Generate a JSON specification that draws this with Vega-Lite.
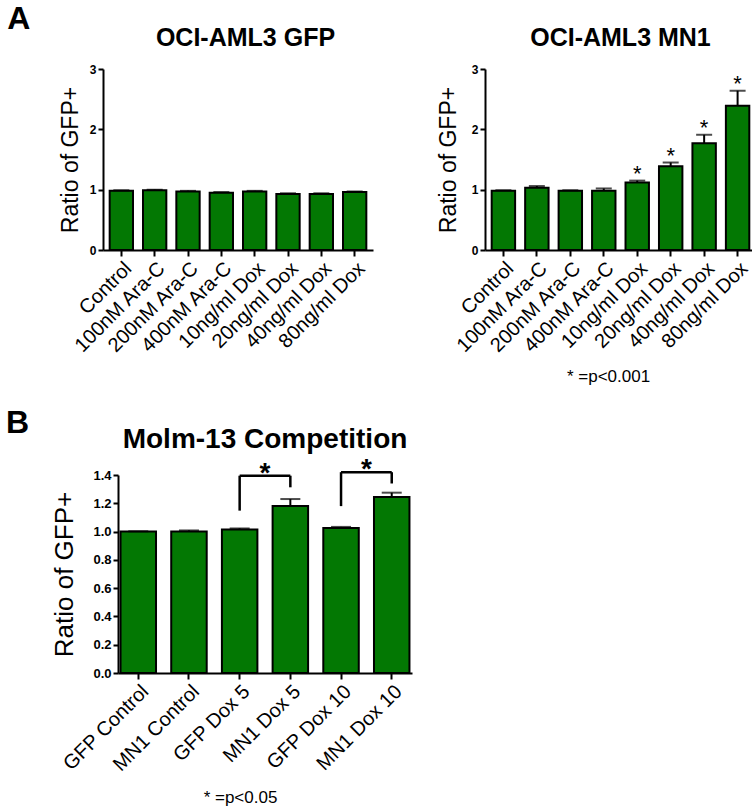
{
  "$schema": "https://vega.github.io/schema/vega-lite/v6.json",
  "padding": {"left": 5, "top": 3, "right": 0, "bottom": 0},
  "background": "white",
  "config": {
    "font": "Liberation Sans",
    "view": {"stroke": null},
    "axis": {
      "grid": false,
      "domainColor": "black",
      "domainWidth": 2,
      "tickColor": "black",
      "tickWidth": 2,
      "tickSize": 5,
      "labelColor": "black",
      "titleColor": "black",
      "labelFont": "Liberation Sans",
      "titleFont": "Liberation Sans",
      "labelOverlap": false
    },
    "title": {"font": "Liberation Sans", "color": "black", "fontWeight": "bold"}
  },
  "datasets": {
    "gfp": [
      {"group": "Control", "mean": 0.98, "upper": 0.99},
      {"group": "100nM Ara-C", "mean": 0.99, "upper": 1.0},
      {"group": "200nM Ara-C", "mean": 0.97, "upper": 0.98},
      {"group": "400nM Ara-C", "mean": 0.95, "upper": 0.96},
      {"group": "10ng/ml Dox", "mean": 0.97, "upper": 0.98},
      {"group": "20ng/ml Dox", "mean": 0.93, "upper": 0.94},
      {"group": "40ng/ml Dox", "mean": 0.93, "upper": 0.94},
      {"group": "80ng/ml Dox", "mean": 0.96, "upper": 0.97}
    ],
    "mn1": [
      {"group": "Control", "mean": 0.98, "upper": 0.99, "sig": ""},
      {"group": "100nM Ara-C", "mean": 1.03, "upper": 1.06, "sig": ""},
      {"group": "200nM Ara-C", "mean": 0.98, "upper": 0.99, "sig": ""},
      {"group": "400nM Ara-C", "mean": 0.98, "upper": 1.02, "sig": ""},
      {"group": "10ng/ml Dox", "mean": 1.12, "upper": 1.15, "sig": "*"},
      {"group": "20ng/ml Dox", "mean": 1.39, "upper": 1.45, "sig": "*"},
      {"group": "40ng/ml Dox", "mean": 1.77, "upper": 1.91, "sig": "*"},
      {"group": "80ng/ml Dox", "mean": 2.39, "upper": 2.64, "sig": "*"}
    ],
    "molm": [
      {"group": "GFP Control", "mean": 1.0, "upper": 1.002},
      {"group": "MN1 Control", "mean": 1.0, "upper": 1.008},
      {"group": "GFP Dox 5", "mean": 1.015, "upper": 1.022},
      {"group": "MN1 Dox 5", "mean": 1.18, "upper": 1.23},
      {"group": "GFP Dox 10", "mean": 1.025, "upper": 1.033},
      {"group": "MN1 Dox 10", "mean": 1.245, "upper": 1.275}
    ],
    "brackets": [
      {"g1": "GFP Dox 5", "g2": "MN1 Dox 5", "y1": 1.395, "y2": 1.395},
      {"g1": "GFP Dox 5", "g2": "GFP Dox 5", "y1": 1.148, "y2": 1.395},
      {"g1": "MN1 Dox 5", "g2": "MN1 Dox 5", "y1": 1.313, "y2": 1.395},
      {"g1": "GFP Dox 10", "g2": "MN1 Dox 10", "y1": 1.42, "y2": 1.42},
      {"g1": "GFP Dox 10", "g2": "GFP Dox 10", "y1": 1.18, "y2": 1.42},
      {"g1": "MN1 Dox 10", "g2": "MN1 Dox 10", "y1": 1.34, "y2": 1.42}
    ],
    "bstars": [
      {"g1": "GFP Dox 5", "y": 1.395, "sig": "*"},
      {"g1": "GFP Dox 10", "y": 1.42, "sig": "*"}
    ]
  },
  "spacing": 22,
  "vconcat": [
    {
      "title": {"text": "A", "anchor": "start", "fontSize": 32, "dx": -52, "offset": -10},
      "spacing": 49,
      "hconcat": [
        {
          "width": 255,
          "height": 181,
          "title": {"text": "OCI-AML3 GFP", "fontSize": 25, "offset": 12},
          "data": {"name": "gfp"},
          "encoding": {
            "x": {
              "field": "group", "type": "nominal", "sort": null,
              "scale": {"paddingInner": 0.3, "paddingOuter": 0.2, "range": [-15, 255]},
              "axis": {"title": null, "labelAngle": -45, "labelFontSize": 20, "labelPadding": 2, "tickSize": 6}
            }
          },
          "layer": [
            {
              "mark": {"type": "bar", "fill": "#037803", "stroke": "black", "strokeWidth": 2},
              "encoding": {
                "y": {
                  "field": "mean", "type": "quantitative",
                  "scale": {"domain": [0, 3]},
                  "axis": {"title": "Ratio of GFP+", "offset": 15, "titleFontSize": 23, "titleFontWeight": "normal", "values": [0, 1, 2, 3], "format": "d", "labelFontSize": 12, "labelFontWeight": "bold", "titlePadding": 7, "labelPadding": 2}
                }
              }
            },
            {
              "mark": {"type": "rule", "color": "black", "strokeWidth": 2},
              "encoding": {"y": {"field": "mean", "type": "quantitative"}, "y2": {"field": "upper"}}
            },
            {
              "mark": {"type": "tick", "color": "black", "thickness": 2, "size": 16},
              "encoding": {"y": {"field": "upper", "type": "quantitative"}}
            }
          ]
        },
        {
          "width": 271,
          "height": 181,
          "title": {"text": "OCI-AML3 MN1", "fontSize": 25, "offset": 12},
          "data": {"name": "mn1"},
          "encoding": {
            "x": {
              "field": "group", "type": "nominal", "sort": null,
              "scale": {"paddingInner": 0.3, "paddingOuter": 0.2},
              "axis": {"title": "* =p<0.001", "titleFontSize": 17, "titleFontWeight": "normal", "titlePadding": 12, "titleX": 123, "labelAngle": -45, "labelFontSize": 20, "labelPadding": 2, "tickSize": 6}
            }
          },
          "layer": [
            {
              "mark": {"type": "bar", "fill": "#037803", "stroke": "black", "strokeWidth": 2},
              "encoding": {
                "y": {
                  "field": "mean", "type": "quantitative",
                  "scale": {"domain": [0, 3]},
                  "axis": {"title": "Ratio of GFP+", "titleFontSize": 23, "titleFontWeight": "normal", "values": [0, 1, 2, 3], "format": "d", "labelFontSize": 12, "labelFontWeight": "bold", "titlePadding": 11, "labelPadding": 2}
                }
              }
            },
            {
              "mark": {"type": "rule", "color": "black", "strokeWidth": 2},
              "encoding": {"y": {"field": "mean", "type": "quantitative"}, "y2": {"field": "upper"}}
            },
            {
              "mark": {"type": "tick", "color": "black", "thickness": 2, "size": 16},
              "encoding": {"y": {"field": "upper", "type": "quantitative"}}
            },
            {
              "mark": {"type": "text", "fontSize": 22, "baseline": "alphabetic", "dy": 0, "color": "black"},
              "encoding": {"y": {"field": "upper", "type": "quantitative"}, "text": {"field": "sig"}}
            }
          ]
        }
      ]
    },
    {
      "title": {"text": "B", "anchor": "start", "fontSize": 32, "dx": -46, "offset": -14},
      "vconcat": [
        {
          "width": 294,
          "height": 198,
          "title": {"text": "Molm-13 Competition", "fontSize": 28, "offset": 2},
          "encoding": {
            "x": {
              "field": "group", "type": "nominal",
              "scale": {"domain": ["GFP Control", "MN1 Control", "GFP Dox 5", "MN1 Dox 5", "GFP Dox 10", "MN1 Dox 10"], "paddingInner": 0.3, "paddingOuter": 0.05},
              "axis": {"title": "* =p<0.05", "titleFontSize": 17, "titleFontWeight": "normal", "titlePadding": 15, "titleX": 122, "labelAngle": -45, "labelFontSize": 20, "labelPadding": 2, "tickSize": 6}
            }
          },
          "layer": [
            {
              "data": {"name": "molm"},
              "layer": [
                {
                  "mark": {"type": "bar", "fill": "#037803", "stroke": "black", "strokeWidth": 2},
                  "encoding": {
                    "y": {
                      "field": "mean", "type": "quantitative",
                      "scale": {"domain": [0, 1.4]},
                      "axis": {"title": "Ratio of GFP+", "titleFontSize": 26, "titleFontWeight": "normal", "values": [0, 0.2, 0.4, 0.6, 0.8, 1.0, 1.2, 1.4], "tickCount": 8, "labelOverlap": false, "format": ".1f", "labelFontSize": 13, "labelFontWeight": "bold", "titlePadding": 15, "labelPadding": 2}
                    }
                  }
                },
                {
                  "mark": {"type": "rule", "color": "black", "strokeWidth": 2},
                  "encoding": {"y": {"field": "mean", "type": "quantitative"}, "y2": {"field": "upper"}}
                },
                {
                  "mark": {"type": "tick", "color": "black", "thickness": 2, "size": 20},
                  "encoding": {"y": {"field": "upper", "type": "quantitative"}}
                }
              ]
            },
            {
              "data": {"name": "brackets"},
              "mark": {"type": "rule", "color": "black", "strokeWidth": 2.5},
              "encoding": {
                "x": {"field": "g1", "type": "nominal", "bandPosition": 0.5},
                "x2": {"field": "g2", "bandPosition": 0.5},
                "y": {"field": "y1", "type": "quantitative"},
                "y2": {"field": "y2"}
              }
            },
            {
              "data": {"name": "bstars"},
              "mark": {"type": "text", "fontSize": 28, "fontWeight": "bold", "baseline": "alphabetic", "dy": 6, "color": "black"},
              "encoding": {
                "x": {"field": "g1", "type": "nominal", "bandPosition": 1.214},
                "y": {"field": "y", "type": "quantitative"},
                "text": {"field": "sig"}
              }
            }
          ]
        }
      ]
    }
  ]
}
